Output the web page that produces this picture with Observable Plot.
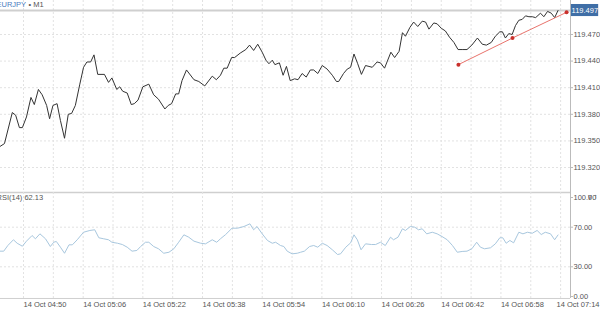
<!DOCTYPE html>
<html><head><meta charset="utf-8">
<script src="https://cdn.jsdelivr.net/npm/d3@7"></script>
<script src="https://cdn.jsdelivr.net/npm/@observablehq/plot@0.6"></script>
<style>
body{margin:0;background:#fff;}
#chart{width:600px;height:309px;overflow:hidden;}
#chart svg{display:block;}
</style></head><body><div id="chart"></div>
<script>
const symbol = "EURJPY";
const timeframe = "M1";
// minutes after 14 Oct 04:50 for each vertex of the price line
const priceMin = [-6.2,-5.1,-3.0,-2.1,-1.1,-0.3,0.8,2.0,2.9,4.0,
5.0,6.2,7.0,7.9,9.0,9.9,11.0,12.0,12.9,13.9,
15.1,16.1,17.0,18.0,18.9,19.9,21.7,22.8,23.7,25.0,
25.8,26.6,27.8,28.9,29.7,30.7,32.0,33.6,34.9,36.2,
37.9,38.8,39.7,40.8,41.6,42.5,43.7,45.7,47.0,48.6,
50.6,51.7,52.8,53.7,54.6,55.8,56.6,58.1,59.6,60.6,
61.7,62.8,64.0,65.0,65.8,66.7,67.4,68.6,69.6,70.5,
71.5,72.7,73.6,74.7,75.8,76.9,77.8,78.9,80.1,81.4,
82.8,83.9,84.5,85.8,86.8,87.7,88.6,89.6,90.6,91.7,
93.5,94.8,95.7,96.8,98.5,99.5,100.7,101.6,102.4,103.6,
104.6,105.7,106.9,107.8,108.7,110.0,110.9,112.0,113.1,114.2,
115.4,116.5,117.6,118.9,120.2,121.7,123.0,124.1,125.4,126.5,
127.7,128.4,129.2,130.1,131.0,131.9,132.8,133.7,134.6,135.5,
136.4,137.3,138.6,139.5,140.5,141.5,142.4,143.3];
const priceVal = [119.344,119.347,119.382,119.379,119.365,119.365,119.377,119.399,119.391,119.408,
119.402,119.390,119.375,119.390,119.392,119.373,119.353,119.380,119.381,119.390,
119.414,119.433,119.439,119.439,119.447,119.425,119.425,119.416,119.421,119.408,
119.411,119.406,119.404,119.391,119.392,119.396,119.411,119.414,119.402,119.397,
119.386,119.390,119.392,119.403,119.403,119.418,119.430,119.419,119.417,119.412,
119.423,119.419,119.424,119.432,119.432,119.444,119.444,119.449,119.453,119.458,
119.452,119.459,119.450,119.441,119.437,119.441,119.436,119.438,119.424,119.434,
119.418,119.420,119.419,119.426,119.422,119.430,119.430,119.426,119.435,119.431,
119.424,119.417,119.417,119.426,119.431,119.433,119.448,119.437,119.425,119.435,
119.433,119.439,119.438,119.432,119.450,119.444,119.451,119.472,119.468,119.478,
119.484,119.479,119.485,119.484,119.476,119.483,119.482,119.477,119.474,119.467,
119.461,119.453,119.453,119.453,119.458,119.466,119.459,119.458,119.461,119.468,
119.473,119.473,119.466,119.471,119.470,119.480,119.486,119.487,119.491,119.490,
119.490,119.489,119.494,119.490,119.496,119.494,119.489,119.497];
const rsiMin = [-6.2,-5.3,-4.2,-2.7,-1.7,-0.3,0.8,2.3,3.2,4.4,
5.9,7.2,8.1,8.8,9.9,11.0,12.2,13.1,14.4,16.1,
17.8,19.1,20.2,21.5,22.8,23.7,25.2,26.5,27.8,29.1,
30.4,31.4,32.7,33.6,34.9,36.2,37.6,39.0,40.3,41.6,
43.0,44.3,45.7,47.5,48.8,50.6,51.8,52.8,54.2,55.9,
57.4,59.1,60.7,61.7,62.6,64.0,65.4,66.7,67.6,68.9,
69.8,70.7,72.0,73.4,74.3,75.3,76.7,77.8,78.9,80.1,
81.4,82.8,84.2,85.0,86.4,87.7,88.6,89.5,90.5,91.7,
93.3,94.4,95.7,97.0,98.4,99.2,100.4,101.6,102.4,103.7,
104.9,105.9,106.9,108.1,109.6,110.9,112.2,113.6,115.0,116.3,
117.6,118.9,120.2,121.5,122.5,123.6,125.2,126.5,127.7,128.5,
129.4,130.4,131.4,132.8,133.9,135.1,136.4,137.7,138.8,139.9,
141.3,142.4,143.3];
const rsiVal = [45.8,45.8,51.5,57.3,53.8,50.8,55.9,61.6,58.3,63.3,
58.3,50.5,54.8,55.6,49.8,43.7,52.2,52.2,57.3,64.9,
66.7,67.4,59.3,58.3,57.3,54.8,53.8,52.5,49.8,45.8,
46.5,50.5,54.8,54.8,50.5,48.2,43.7,44.7,48.2,54.8,
62.3,59.9,55.9,53.8,53.2,57.3,54.8,58.3,62.6,69.0,
69.0,70.7,73.4,67.4,70.7,63.3,56.6,53.8,54.8,51.5,
50.5,45.8,43.1,43.7,44.7,45.8,50.5,51.5,49.8,53.8,
51.5,47.2,42.4,43.1,49.8,54.2,62.3,57.3,47.2,53.2,
52.5,52.5,54.8,51.5,59.9,57.3,59.9,68.4,66.7,70.7,
70.0,67.4,68.4,63.3,64.9,63.3,60.6,57.3,51.5,44.7,
45.5,45.8,48.2,54.8,49.8,48.2,49.2,53.2,59.3,59.3,
53.8,56.6,54.2,64.9,63.3,64.9,63.9,66.7,62.6,64.9,
63.3,57.3,62.13];
const trendMin = [116.6, 131.1, 145.6];
const trendVal = [119.436, 119.466, 119.495];
const lastPrice = 119.497;
const lastRsi = 62.13;
const priceTicks = [119.320, 119.350, 119.380, 119.410, 119.440, 119.470];
const rsiTicks = [0, 30, 70, 100];
const rsiGrid = [30, 70];
const labelMin = [0, 16, 32, 48, 64, 80, 96, 112, 128];
const lastLabelMin = 144;
const gridMin = [0, 8, 16, 24, 32, 40, 48, 56, 64, 72, 80, 88, 96, 104, 112, 120, 128, 136, 144];

const base = new Date(2019, 9, 14, 4, 50);
const T = m => new Date(base.getTime() + m * 60000);
const xDomain = [T(-6.166), T(146.65)];
const fmtTime = d3.timeFormat("%d %b %H:%M");
const FONT = '"Liberation Sans", Arial, sans-serif';
const GRID = "#e2e2e2";

const price = priceMin.map((m, i) => ({t: T(m), v: priceVal[i]}));
const rsi = rsiMin.map((m, i) => ({t: T(m), v: rsiVal[i]}));
const trend = trendMin.map((m, i) => ({t: T(m), v: trendVal[i]}));

const main = Plot.plot({
  width: 600, height: 190,
  marginTop: 0, marginBottom: 0, marginLeft: 0, marginRight: 30,
  style: {fontFamily: FONT, fontSize: "7.5px", color: "#555", background: "#fff", overflow: "visible"},
  x: {type: "time", domain: xDomain, axis: null},
  y: {domain: [119.2941, 119.5083], axis: null},
  marks: [
    Plot.ruleX(gridMin.map(T), {stroke: GRID, strokeDasharray: "2,2"}),
    Plot.ruleY(priceTicks, {stroke: GRID, strokeDasharray: "2,2"}),
    Plot.ruleY([lastPrice], {stroke: "#cfcfcf", strokeWidth: 2}),
    Plot.line(price, {x: "t", y: "v", stroke: "#333", strokeWidth: 1}),
    Plot.line(trend, {x: "t", y: "v", stroke: "#e8736c", strokeWidth: 1}),
    Plot.dot(trend, {x: "t", y: "v", r: 2, fill: "#c9302c", stroke: "none"}),
    Plot.ruleX([xDomain[1]], {stroke: "#bbb"}),
    Plot.axisY(priceTicks, {anchor: "right", tickSize: 2, tickPadding: 1, tickFormat: d3.format(".3f"), stroke: "#bbb", fill: "#555", fontSize: 7.5}),
    Plot.rect([lastPrice], {x1: () => T(146.9), x2: () => T(154.2), y1: d => d - 0.0068, y2: d => d + 0.0068, fill: "#3f6ea6"}),
    Plot.text([lastPrice], {x: () => T(150.5), y: d => d, text: d => d.toFixed(3), fill: "#fff", fontSize: 7.5}),
    Plot.text([symbol], {frameAnchor: "top-left", dx: -4, dy: 4, lineAnchor: "middle", textAnchor: "start", fill: "#4a7cc0", fontSize: 7.5}),
    Plot.text(["\u2022 " + timeframe], {frameAnchor: "top-left", dx: 28, dy: 4, lineAnchor: "middle", textAnchor: "start", fill: "#555", fontSize: 7.5})
  ]
});

const lower = Plot.plot({
  width: 600, height: 119,
  marginTop: 7, marginBottom: 13, marginLeft: 0, marginRight: 30,
  style: {fontFamily: FONT, fontSize: "7.5px", color: "#555", background: "#fff", overflow: "visible"},
  x: {type: "time", domain: xDomain, axis: null},
  y: {domain: [0, 100], axis: null},
  marks: [
    Plot.ruleY([107.1], {stroke: "#cfcfcf", strokeWidth: 1.5, dy: 2}),
    Plot.ruleX(gridMin.map(T), {y1: 105, y2: -2, stroke: GRID, strokeDasharray: "2,2"}),
    Plot.ruleY(rsiGrid, {stroke: GRID, strokeDasharray: "2,2"}),
    Plot.line(rsi, {x: "t", y: "v", stroke: "#a8c7de", strokeWidth: 1}),
    Plot.ruleY([-2], {stroke: "#cfcfcf"}),
    Plot.ruleX([xDomain[1]], {y1: 107.1, y2: -2, stroke: "#bbb"}),
    Plot.axisY(rsiTicks, {anchor: "right", tickSize: 2, tickPadding: 1, tickFormat: d3.format(".2f"), stroke: "#bbb", fill: "#555", fontSize: 7.5}),
    Plot.text([`RSI(14) ${lastRsi.toFixed(2)}`], {frameAnchor: "top-left", dx: -4, lineAnchor: "middle", textAnchor: "start", fill: "#555", fontSize: 7.5}),
    Plot.text(labelMin, {x: d => T(d), frameAnchor: "bottom", dy: 8, lineAnchor: "middle", textAnchor: "start", text: d => fmtTime(T(d)), fill: "#555", fontSize: 7.5}),
    Plot.text([lastLabelMin], {frameAnchor: "bottom-right", dx: 29, dy: 8, lineAnchor: "middle", textAnchor: "end", text: d => fmtTime(T(d)), fill: "#555", fontSize: 7.5})
  ]
});

const chart = document.getElementById("chart");
chart.appendChild(main);
chart.appendChild(lower);
</script>
</body></html>
